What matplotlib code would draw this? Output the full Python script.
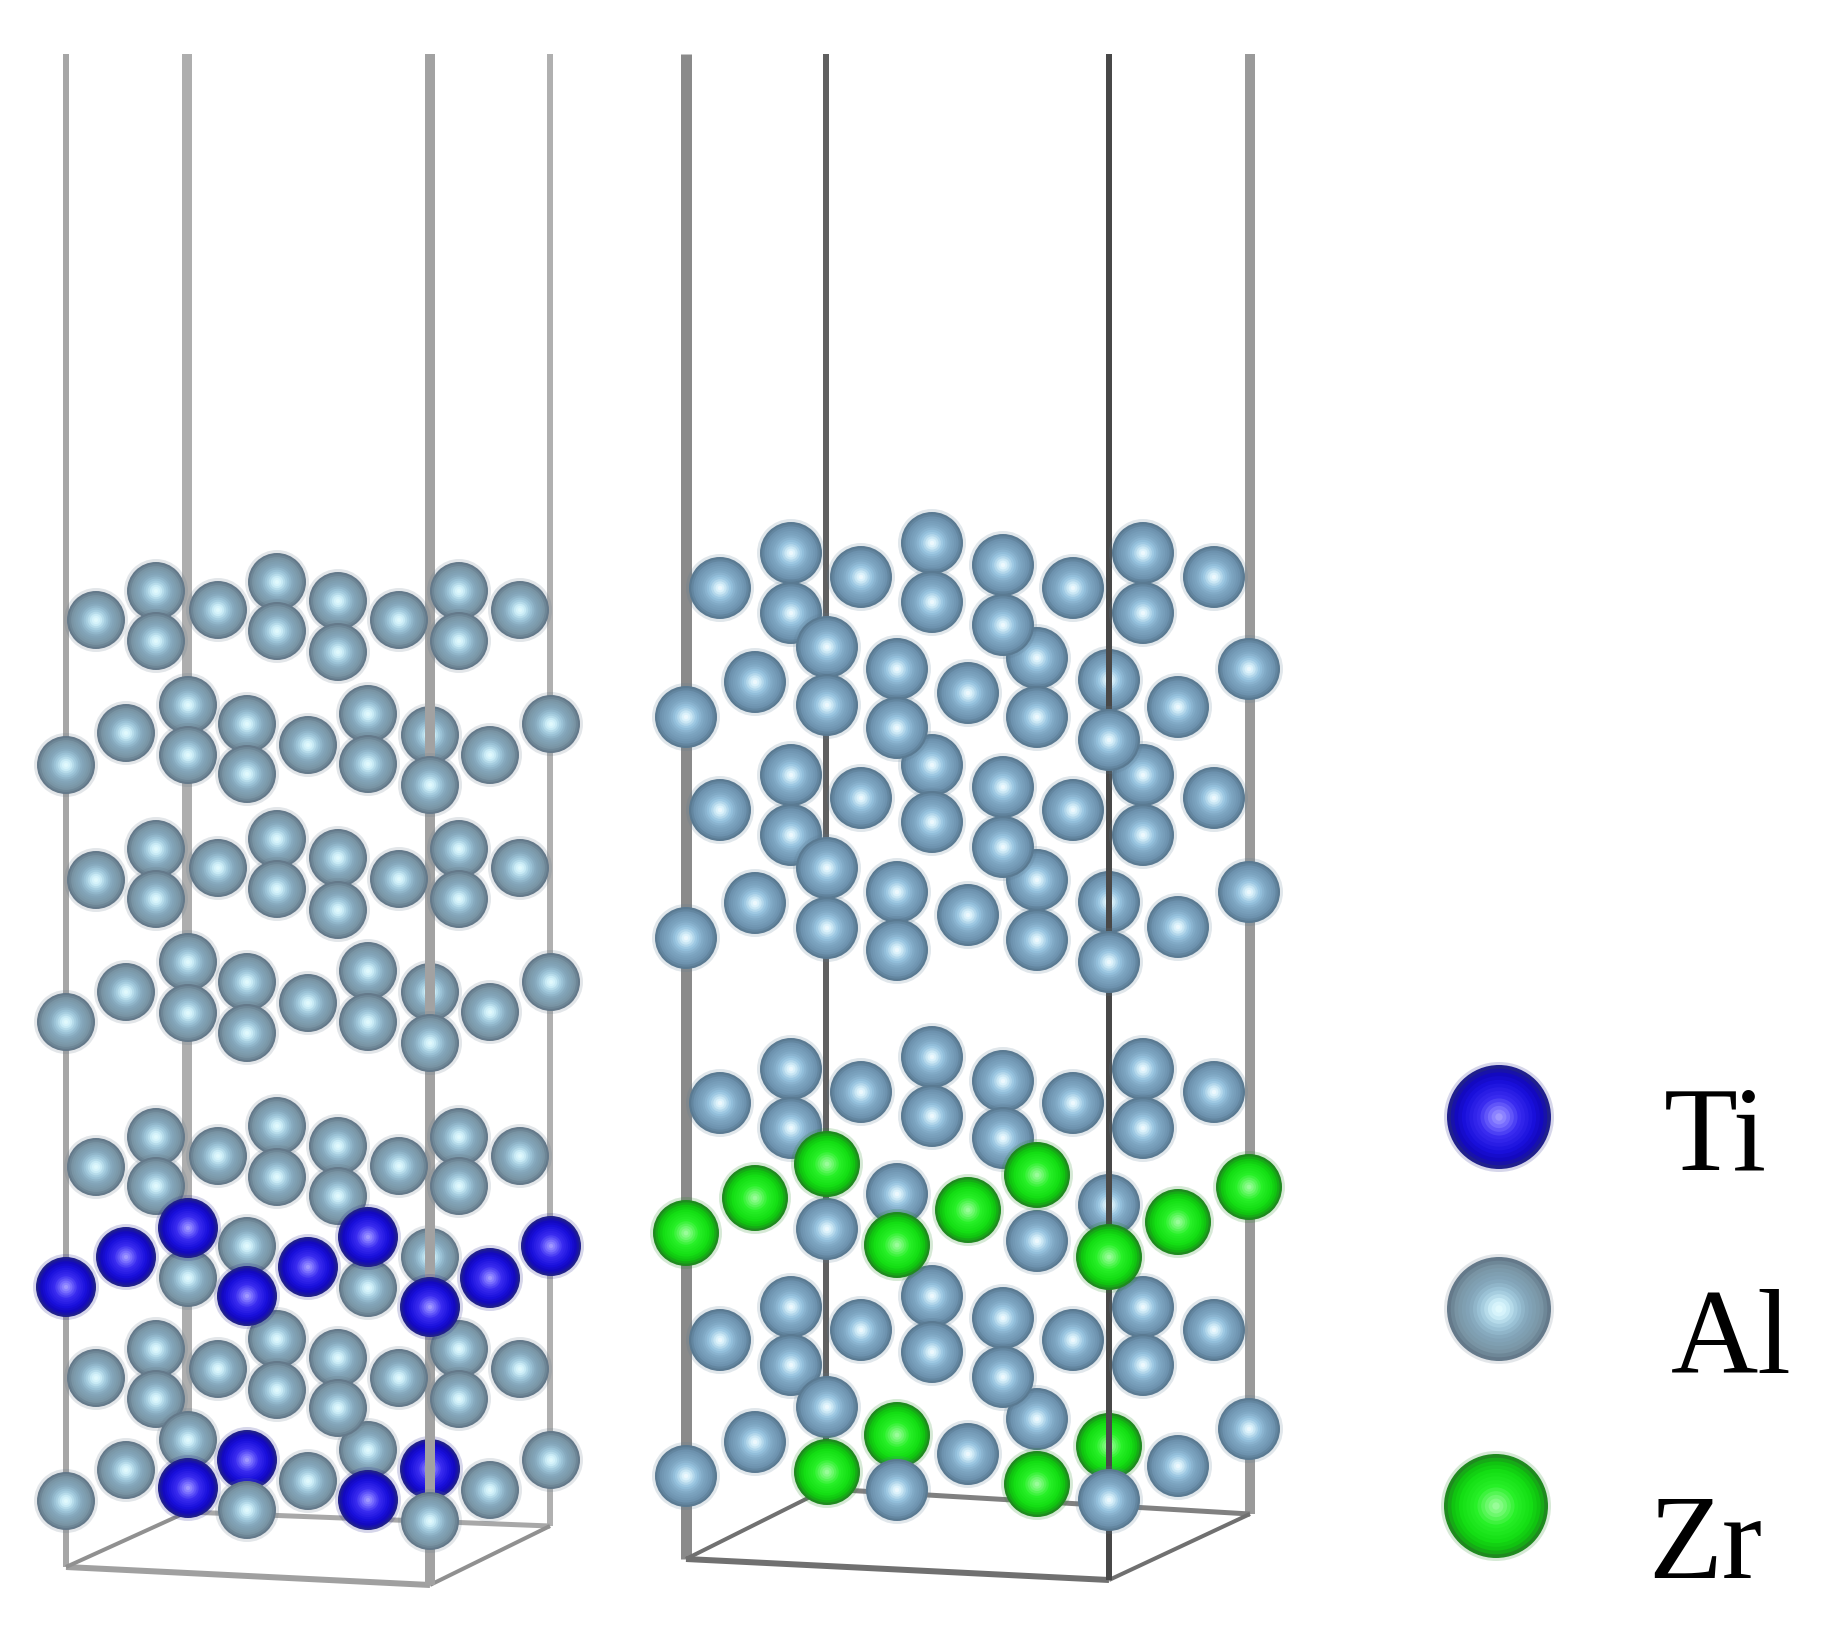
import matplotlib
matplotlib.use("Agg")
import matplotlib.pyplot as plt
from matplotlib.colors import LinearSegmentedColormap
from matplotlib.patches import Circle

# everything in pixel positions
W, H = 1829, 1635

left_ax = [96, 156, 156, 218, 277, 277, 338, 338, 399, 459, 459, 520]
left_bx = [66, 126, 188, 188, 247, 247, 308, 368, 368, 430, 430, 490, 551]
left_y1 = [620, 591, 641, 610, 582, 631, 601, 652, 620, 591, 641, 610]
left_y2 = [765, 733, 705, 755, 724, 774, 745, 714, 764, 735, 785, 755, 724]
left_y3 = [880, 849, 899, 868, 839, 889, 858, 910, 879, 849, 899, 868]
left_y4 = [1022, 992, 962, 1013, 982, 1033, 1003, 971, 1022, 992, 1043, 1012, 982]
left_y5 = [1167, 1137, 1186, 1156, 1126, 1177, 1146, 1196, 1166, 1137, 1186, 1156]
left_y7 = [1378, 1349, 1399, 1369, 1339, 1390, 1358, 1408, 1378, 1349, 1399, 1369]

left_6x = [247, 188, 368, 430]
left_6y = [1246, 1278, 1288, 1257]
ti_1x = [66, 126, 188, 247, 308, 368, 430, 490, 551]
ti_1y = [1287, 1257, 1228, 1296, 1267, 1237, 1307, 1278, 1246]
left_8x = [66, 126, 188, 247, 308, 368, 430, 490, 551]
left_8y = [1501, 1470, 1440, 1510, 1481, 1450, 1521, 1490, 1460]
ti_2x = [188, 247, 368, 430]
ti_2y = [1488, 1460, 1500, 1469]

right_ax = [720, 791, 791, 861, 932, 932, 1003, 1003, 1073, 1143, 1143, 1214]
right_bx = [686, 755, 827, 827, 897, 897, 968, 1037, 1037, 1109, 1109, 1178, 1249]
right_y1 = [588, 553, 613, 577, 543, 602, 565, 625, 588, 553, 613, 577]
right_y2 = [717, 682, 647, 705, 669, 728, 693, 658, 717, 680, 740, 707, 669]
right_y3 = [810, 775, 835, 798, 765, 822, 787, 847, 810, 775, 835, 798]
right_y4 = [938, 903, 868, 928, 892, 950, 915, 880, 940, 902, 962, 927, 892]
right_y5 = [1103, 1069, 1128, 1092, 1057, 1116, 1081, 1138, 1103, 1069, 1128, 1092]
right_y7 = [1340, 1307, 1365, 1330, 1296, 1352, 1318, 1377, 1340, 1307, 1365, 1330]

right_6x = [897, 827, 1037, 1109]
right_6y = [1194, 1229, 1241, 1205]
zr_1x = [686, 755, 827, 897, 968, 1037, 1109, 1178, 1249]
zr_1y = [1233, 1198, 1164, 1245, 1210, 1175, 1257, 1222, 1187]
right_8x = [686, 755, 827, 897, 968, 1037, 1109, 1178, 1249]
right_8y = [1476, 1442, 1407, 1490, 1454, 1419, 1500, 1466, 1429]
zr_2x = [827, 897, 1037, 1109]
zr_2y = [1472, 1435, 1484, 1446]

legend_labels = ["Ti", "Al", "Zr"]
legend_x = [1499, 1499, 1496]
legend_y = [1117, 1309, 1506]
label_x = [1664, 1671, 1648]
label_y = [1169, 1373, 1578]

# box edges: x0, y0, x1, y1, colour, width in px
left_edges = [(66, 54, 66, 1567, "#a6a6a6", 6), (187, 54, 187, 1512, "#aeaeae", 10),
              (550, 54, 550, 1526, "#b0b0b0", 6),
              (66, 1567, 430, 1585, "#a0a0a0", 6), (187, 1512, 550, 1526, "#a8a8a8", 5),
              (66, 1567, 187, 1512, "#909090", 4), (430, 1585, 550, 1526, "#909090", 4)]
left_front = (430, 54, 430, 1585, "#a2a2a2", 10)
right_edges = [(686, 54, 686, 1559, "#8a8a8a", 11), (826, 54, 826, 1489, "#606060", 6),
               (1250, 54, 1250, 1514, "#9a9a9a", 10),
               (686, 1559, 1109, 1580, "#707070", 6), (826, 1489, 1250, 1514, "#808080", 5),
               (686, 1559, 826, 1489, "#707070", 4), (1109, 1580, 1250, 1514, "#707070", 4)]
right_front = (1109, 54, 1109, 1580, "#484848", 6)

# back column of the cell, its atoms cover the layer above
lifted_columns = [188, 827]

AL_L = LinearSegmentedColormap.from_list(
    "al_l", [(0, "#eaffff"), (0.18, "#d0f0fa"), (0.38, "#a0c8dc"), (0.6, "#84a6ba"), (0.85, "#7a96a6"), (1, "#64798a")])
AL_R = LinearSegmentedColormap.from_list(
    "al_r", [(0, "#fbffff"), (0.16, "#d8f0fa"), (0.38, "#98c4e0"), (0.6, "#7ea6c2"), (0.85, "#6e94b0"), (1, "#5a7a92")])
TI = LinearSegmentedColormap.from_list(
    "ti", [(0, "#b4acff"), (0.2, "#7a70ff"), (0.42, "#3a2cf0"), (0.7, "#1a10dc"), (0.88, "#1208bc"), (1, "#20208c")])
ZR = LinearSegmentedColormap.from_list(
    "zr", [(0, "#b0ffb0"), (0.2, "#70fa70"), (0.42, "#28f028"), (0.7, "#14e014"), (0.88, "#10c010"), (1, "#1f8a1f")])


def draw_atom(ax, x, y, r, cmap, z=3):
    # soft outer ring, then the sphere as rings going to the highlight
    ax.add_patch(Circle((x, y), r + 3, fc=cmap(1.0), ec="none", alpha=0.18, zorder=z))
    steps = 14
    for i in range(steps):
        frac = 1 - i / steps
        ax.add_patch(Circle((x, y), r * frac, fc=cmap(frac), ec="none", zorder=z))


def draw_layer(ax, xs, ys, r, cmap, layer, front=None):
    # higher layers cover lower ones, inside a layer lower on screen is nearer
    back_y = min([y for x, y in zip(xs, ys) if x == front], default=None)
    for x, y in zip(xs, ys):
        if x == front and y == back_y:
            z = 2  # behind the front box edge
        else:
            z = 3 + (8 - layer) * 0.1 + y * 1e-5
            if x in lifted_columns:
                z += 0.15
        draw_atom(ax, x, y, r, cmap, z)


fig = plt.figure(figsize=(W / 100, H / 100), dpi=100)
ax = fig.add_axes([0, 0, 1, 1])
ax.set_xlim(0, W)
ax.set_ylim(H, 0)
ax.axis("off")

for x0, y0, x1, y1, col, lw in left_edges + right_edges:
    ax.plot([x0, x1], [y0, y1], color=col, lw=lw * 0.72, solid_capstyle="butt", zorder=1)
for x0, y0, x1, y1, col, lw in [left_front, right_front]:
    ax.plot([x0, x1], [y0, y1], color=col, lw=lw * 0.72, solid_capstyle="butt", zorder=2.5)

lf = left_front[0]
draw_layer(ax, left_ax, left_y1, 29, AL_L, 1)
draw_layer(ax, left_bx, left_y2, 29, AL_L, 2, lf)
draw_layer(ax, left_ax, left_y3, 29, AL_L, 3)
draw_layer(ax, left_bx, left_y4, 29, AL_L, 4, lf)
draw_layer(ax, left_ax, left_y5, 29, AL_L, 5)
draw_layer(ax, left_6x, left_6y, 29, AL_L, 6, lf)
draw_layer(ax, ti_1x, ti_1y, 30, TI, 4)  # Ti sits on top of its neighbours
draw_layer(ax, left_ax, left_y7, 29, AL_L, 7)
draw_layer(ax, left_8x, left_8y, 29, AL_L, 8)
draw_layer(ax, ti_2x, ti_2y, 30, TI, 8, lf)

rf = right_front[0]
draw_layer(ax, right_ax, right_y1, 31, AL_R, 1)
draw_layer(ax, right_bx, right_y2, 31, AL_R, 2, rf)
draw_layer(ax, right_ax, right_y3, 31, AL_R, 3)
draw_layer(ax, right_bx, right_y4, 31, AL_R, 4, rf)
draw_layer(ax, right_ax, right_y5, 31, AL_R, 5)
draw_layer(ax, right_6x, right_6y, 31, AL_R, 6, rf)
draw_layer(ax, zr_1x, zr_1y, 33, ZR, 4)  # same for Zr
draw_layer(ax, right_ax, right_y7, 31, AL_R, 7)
draw_layer(ax, right_8x, right_8y, 31, AL_R, 8)
draw_layer(ax, zr_2x, zr_2y, 33, ZR, 8, rf)

# legend
for x, y, cmap in zip(legend_x, legend_y, [TI, AL_L, ZR]):
    draw_atom(ax, x, y, 52, cmap)
for x, y, s in zip(label_x, label_y, legend_labels):
    ax.text(x, y, s, family="Liberation Serif", fontsize=87, color="black", ha="left", va="baseline")

plt.savefig("out.png", dpi=100)
plt.close()
